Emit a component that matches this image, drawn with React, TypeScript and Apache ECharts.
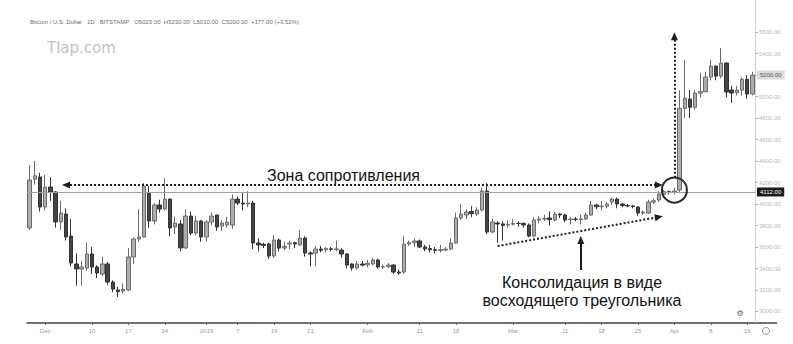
import React, { useEffect, useRef } from "react";
import * as echarts from "echarts";

// ---- categories: daily bars, 28 Nov 2018 .. 16 Apr 2019 ----
const firstDay = "2018-11-28";
const dayCount = 140;
function buildDates(start: string, n: number): string[] {
  const out: string[] = [];
  const d0 = new Date(start + "T00:00:00Z");
  for (let i = 0; i < n; i++) {
    const d = new Date(d0.getTime() + i * 86400000);
    out.push(d.toISOString().slice(0, 10));
  }
  return out;
}
const dates = buildDates(firstDay, dayCount);

// ---- OHLC values ----
const openPrices = [
  3777, 4230, 4251, 3972, 4158, 4112, 3833, 3907, 3702, 3442,
  3395, 3405, 3535, 3414, 3349, 3442, 3274, 3200, 3190, 3200,
  3507, 3674, 3693, 4100, 3842, 3991, 3953, 4046, 3786, 3814,
  3591, 3888, 3730, 3842, 3693, 3833, 3898, 3795, 3805, 3805,
  4046, 4009, 4000, 4009, 3637, 3625, 3628, 3516, 3665, 3590,
  3628, 3640, 3619, 3683, 3544, 3544, 3581, 3575, 3583, 3578,
  3572, 3535, 3442, 3405, 3442, 3435, 3442, 3479, 3414, 3418,
  3432, 3367, 3367, 3628, 3640, 3656, 3600, 3585, 3575, 3568,
  3572, 3581, 3637, 3870, 3898, 3930, 3907, 3944, 4121, 3740,
  3823, 3815, 3805, 3812, 3820, 3818, 3805, 3702, 3851, 3860,
  3870, 3851, 3907, 3898, 3855, 3860, 3856, 3861, 3898, 3991,
  3975, 3980, 4018, 4046, 4000, 3985, 3982, 3972, 3916, 3916,
  4018, 4037, 4090, 4115, 4110, 4130, 4890, 4976, 4900, 5032,
  5045, 5181, 5283, 5190, 5311, 5060, 5035, 5060, 5160, 5023,
];
const closePrices = [
  4223, 4262, 3972, 4158, 4112, 3833, 3916, 3693, 3451, 3395,
  3414, 3535, 3414, 3358, 3442, 3274, 3209, 3185, 3205, 3507,
  3674, 3693, 4167, 3842, 3991, 3953, 4046, 3777, 3823, 3591,
  3888, 3730, 3842, 3693, 3833, 3888, 3786, 3823, 3830, 4046,
  4009, 4000, 4009, 3637, 3619, 3615, 3516, 3665, 3590, 3605,
  3637, 3628, 3683, 3544, 3535, 3581, 3570, 3585, 3578, 3582,
  3535, 3432, 3405, 3442, 3432, 3448, 3479, 3414, 3417, 3432,
  3367, 3358, 3628, 3640, 3656, 3600, 3582, 3575, 3568, 3575,
  3580, 3637, 3870, 3907, 3926, 3910, 3944, 4121, 3740, 3833,
  3814, 3800, 3812, 3820, 3818, 3805, 3702, 3851, 3860, 3865,
  3855, 3907, 3898, 3851, 3860, 3856, 3862, 3898, 3991, 3975,
  3980, 4000, 4046, 4000, 3985, 3982, 3978, 3916, 3925, 4018,
  4030, 4093, 4115, 4110, 4120, 4890, 4985, 4900, 5032, 5045,
  5181, 5283, 5190, 5311, 5042, 5032, 5060, 5160, 5023, 5200,
];
const lowPrices = [
  3758, 4180, 3930, 3940, 4030, 3780, 3760, 3660, 3420, 3240,
  3240, 3380, 3350, 3310, 3330, 3250, 3180, 3135, 3170, 3190,
  3440, 3650, 3690, 3780, 3810, 3920, 3940, 3700, 3720, 3560,
  3580, 3710, 3710, 3650, 3650, 3800, 3750, 3750, 3780, 3770,
  3990, 3940, 3970, 3580, 3560, 3590, 3490, 3500, 3560, 3570,
  3580, 3590, 3610, 3510, 3420, 3420, 3550, 3550, 3560, 3560,
  3500, 3400, 3380, 3390, 3420, 3410, 3430, 3400, 3395, 3405,
  3350, 3340, 3350, 3610, 3600, 3590, 3560, 3550, 3540, 3550,
  3560, 3570, 3630, 3850, 3860, 3880, 3890, 3930, 3720, 3730,
  3640, 3660, 3780, 3800, 3790, 3780, 3690, 3690, 3820, 3840,
  3800, 3840, 3870, 3830, 3810, 3840, 3810, 3850, 3890, 3950,
  3940, 3960, 3990, 3960, 3970, 3970, 3960, 3890, 3900, 3910,
  4000, 4020, 4060, 4090, 4090, 4110, 4800, 4800, 4880, 4990,
  5040, 5150, 5150, 5170, 4990, 4940, 5010, 5010, 4980, 5010,
];
const highPrices = [
  4363, 4400, 4290, 4270, 4250, 4120, 4030, 3960, 3860, 3540,
  3470, 3640, 3600, 3430, 3510, 3460, 3290, 3230, 3260, 3590,
  3690, 3950, 4195, 4170, 4010, 4040, 4240, 4050, 3880, 3850,
  3950, 3930, 3890, 3850, 3850, 3920, 3900, 3850, 3880, 4090,
  4070, 4100, 4120, 4030, 3680, 3640, 3640, 3710, 3680, 3650,
  3660, 3650, 3760, 3700, 3560, 3610, 3610, 3600, 3600, 3660,
  3590, 3540, 3450, 3470, 3470, 3480, 3500, 3490, 3440, 3450,
  3440, 3390, 3700, 3660, 3680, 3670, 3620, 3620, 3600, 3620,
  3600, 3680, 3920, 4000, 3950, 3980, 3970, 4150, 4195, 3860,
  3840, 3840, 3850, 3860, 3840, 3830, 3820, 3880, 3890, 3900,
  3930, 3930, 3915, 3910, 3880, 3880, 3900, 3920, 4030, 4000,
  4030, 4020, 4060, 4060, 4010, 4000, 3990, 3980, 3940, 4040,
  4050, 4120, 4130, 4125, 4150, 5060, 5340, 5060, 5060, 5220,
  5230, 5340, 5290, 5451, 5320, 5100, 5100, 5180, 5200, 5230,
];

// ---- axis ticks ----
const tickDates = [
  "2018-12-01", "2018-12-10", "2018-12-17", "2018-12-24", "2019-01-01",
  "2019-01-07", "2019-01-14", "2019-01-21", "2019-02-01", "2019-02-11",
  "2019-02-18", "2019-03-01", "2019-03-11", "2019-03-18", "2019-03-25",
  "2019-04-01", "2019-04-08", "2019-04-15",
];
const tickTexts = [
  "Dec", "10", "17", "24", "2019", "7", "14", "21", "Feb", "11",
  "18", "Mar", "11", "18", "25", "Apr", "8", "15",
];
const priceTicks = [3000, 3200, 3400, 3600, 3800, 4000, 4200, 4400, 4600, 4800, 5000, 5200, 5400, 5600];

// ---- annotation levels ----
const resistanceLevel = 4112;
const resistanceArrow = { from: "2018-12-05", to: "2019-03-29", value: 4177 };
const triangleLine = { from: "2019-02-26", fromValue: 3609, to: "2019-03-29", toValue: 3879 };
const breakout = { date: "2019-04-01", value: 4130, arrowFrom: 4245, arrowTo: 5560 };
const pointerArrow = { date: "2019-03-14", from: 3386, to: 3665 };

const FONT = "'Liberation Sans', Arial, sans-serif";

export default function App() {
  const ref = useRef<HTMLDivElement>(null);
  useEffect(() => {
    if (!ref.current) return;
    const chart = echarts.init(ref.current, undefined, { renderer: "svg" });
    const labelMap: Record<string, string> = {};
    tickDates.forEach((d, i) => (labelMap[d] = tickTexts[i]));
    const show = (_i: number, v: string) => labelMap[v] !== undefined;
    const ohlc = dates.map((_, i) => [openPrices[i], closePrices[i], lowPrices[i], highPrices[i]]);
    const lastClose = closePrices[closePrices.length - 1];
    const dotted = { color: "#1e1e1e", width: 2, type: [2, 2] as any };

    chart.setOption({
      animation: false,
      backgroundColor: "#ffffff",
      textStyle: { fontFamily: FONT },
      grid: { left: 27, right: 38, top: 0, bottom: 21 },
      xAxis: {
        type: "category",
        data: dates,
        boundaryGap: true,
        axisLine: { lineStyle: { color: "#444", width: 1.5 } },
        axisTick: { show: true, interval: show, alignWithLabel: true, length: 2, lineStyle: { color: "#666" } },
        axisLabel: {
          interval: show,
          formatter: (v: string) => labelMap[v] ?? "",
          fontSize: 6,
          color: "#9a9a9a",
          margin: 5,
        },
        splitLine: { show: false },
      },
      yAxis: {
        type: "value",
        position: "right",
        min: 2893,
        max: 5898,
        scale: true,
        axisLine: { show: true, lineStyle: { color: "#d0d0d0" } },
        axisTick: { show: true, customValues: priceTicks, length: 3, lineStyle: { color: "#b0b0b0" } },
        axisLabel: {
          customValues: priceTicks,
          formatter: (v: number) => v.toFixed(2),
          fontSize: 6,
          color: "#b8b8b8",
          margin: 4,
        },
        splitLine: { show: false },
      },
      series: [
        {
          type: "candlestick",
          data: ohlc,
          barWidth: 4,
          itemStyle: {
            color: "#adadad",
            color0: "#454545",
            borderColor: "#6a6a6a",
            borderColor0: "#333333",
            borderWidth: 1,
          },
          markLine: {
            silent: true,
            animation: false,
            symbol: ["none", "none"],
            label: { show: false },
            data: [
              {
                yAxis: resistanceLevel,
                lineStyle: { color: "#a0a0a0", width: 1, type: "solid" },
                label: {
                  show: true,
                  position: "end",
                  formatter: resistanceLevel.toFixed(2),
                  backgroundColor: "#1b1b1b",
                  color: "#ffffff",
                  fontSize: 6,
                  padding: [1.5, 3],
                  distance: 2,
                },
              },
              {
                yAxis: lastClose,
                lineStyle: { color: "rgba(0,0,0,0)", width: 0 },
                label: {
                  show: true,
                  position: "end",
                  formatter: lastClose.toFixed(2),
                  backgroundColor: "#dcdcdc",
                  color: "#555",
                  fontSize: 6,
                  padding: [1.5, 3],
                  distance: 2,
                },
              },
              [
                { coord: [resistanceArrow.from, resistanceArrow.value], symbol: "triangle", symbolSize: [7, 8], lineStyle: dotted },
                { coord: [resistanceArrow.to, resistanceArrow.value], symbol: "triangle", symbolSize: [7, 8], lineStyle: dotted },
              ],
              [
                { coord: [triangleLine.from, triangleLine.fromValue], symbol: "none", lineStyle: dotted },
                { coord: [triangleLine.to, triangleLine.toValue], symbol: "triangle", symbolSize: [7, 8], lineStyle: dotted },
              ],
              [
                { coord: [breakout.date, breakout.arrowFrom], symbol: "none", lineStyle: dotted },
                { coord: [breakout.date, breakout.arrowTo], symbol: "triangle", symbolSize: [7, 8], lineStyle: dotted },
              ],
              [
                { coord: [pointerArrow.date, pointerArrow.from], symbol: "none", lineStyle: { color: "#1e1e1e", width: 2, type: "solid" } },
                { coord: [pointerArrow.date, pointerArrow.to], symbol: "triangle", symbolSize: [7, 8], lineStyle: { color: "#1e1e1e", width: 2, type: "solid" } },
              ],
            ],
          },
          markPoint: {
            silent: true,
            animation: false,
            data: [
              {
                coord: [breakout.date, breakout.value],
                symbol: "circle",
                symbolSize: 25,
                itemStyle: { color: "rgba(0,0,0,0)", borderColor: "#2a2a2a", borderWidth: 2 },
                label: { show: false },
              },
            ],
          },
        },
      ],
      graphic: [
        {
          type: "text",
          x: 30,
          y: 22,
          style: {
            text: "Bitcoin / U.S. Dollar   1D   BITSTAMP   O5023.00  H5230.00  L5010.00  C5200.00  +177.00 (+3.52%)",
            fontSize: 6,
            fontFamily: FONT,
            fill: "#6e6e6e",
            textVerticalAlign: "middle",
          },
        },
        {
          type: "text",
          x: 47,
          y: 48,
          style: {
            text: "Tlap.com",
            fontSize: 15,
            fontFamily: "'DejaVu Sans', sans-serif",
            fill: "#c2c2c2",
            textVerticalAlign: "middle",
          },
        },
        {
          type: "text",
          x: 267,
          y: 175,
          style: {
            text: "Зона сопротивления",
            fontSize: 16,
            fontFamily: FONT,
            fill: "#111111",
            textVerticalAlign: "middle",
          },
        },
        {
          type: "text",
          x: 582,
          y: 282,
          style: {
            text: "Консолидация в виде",
            fontSize: 16,
            fontFamily: FONT,
            fill: "#111111",
            textAlign: "center",
            textVerticalAlign: "middle",
          },
        },
        {
          type: "text",
          x: 582,
          y: 300,
          style: {
            text: "восходящего треугольника",
            fontSize: 16,
            fontFamily: FONT,
            fill: "#111111",
            textAlign: "center",
            textVerticalAlign: "middle",
          },
        },
        {
          type: "line",
          shape: { x1: 755, y1: 323, x2: 777, y2: 323 },
          style: { stroke: "#444", lineWidth: 1.5 },
        },
        {
          type: "text",
          x: 740,
          y: 313,
          style: { text: "⚙", fontSize: 8, fontFamily: "'DejaVu Sans', sans-serif", fill: "#666", textAlign: "center", textVerticalAlign: "middle" },
        },
        {
          type: "circle",
          shape: { cx: 766, cy: 331, r: 3.5 },
          style: { fill: "none", stroke: "#999", lineWidth: 1 },
        },
      ],
    });
    return () => chart.dispose();
  }, []);
  return (
    <div
      ref={ref}
      style={{ position: "fixed", left: 0, top: 0, width: 793, height: 344, background: "#fff" }}
    />
  );
}
